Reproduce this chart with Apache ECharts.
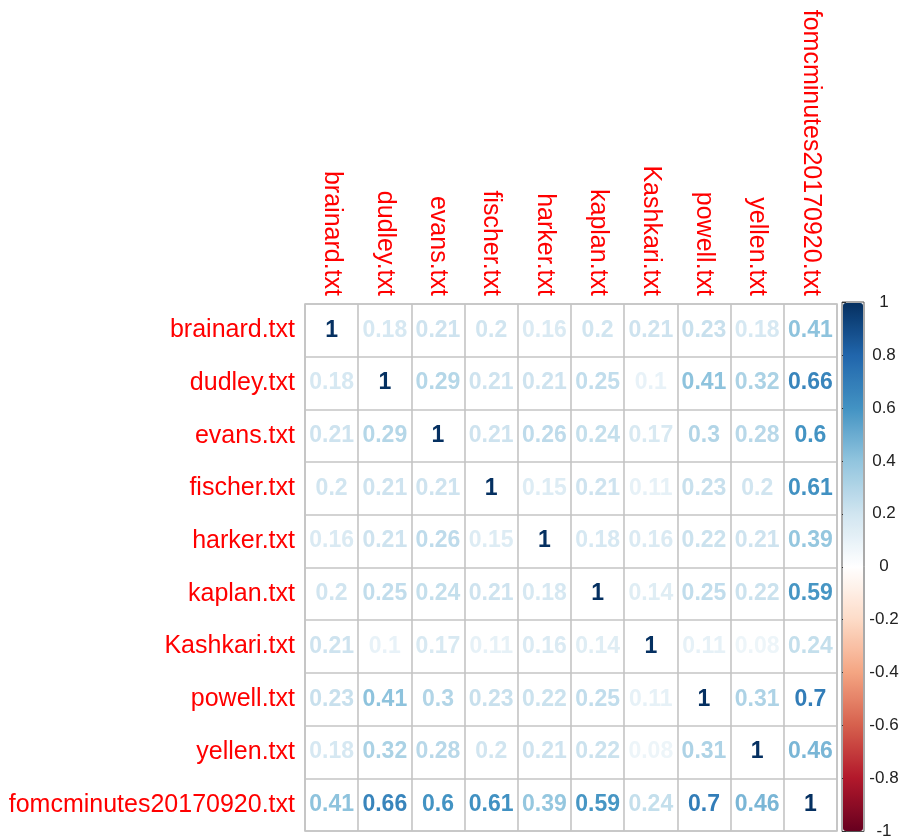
<!DOCTYPE html>
<html>
<head>
<meta charset="utf-8">
<script src="https://cdn.jsdelivr.net/npm/echarts@6/dist/echarts.min.js"></script>
<style>
  html, body { margin: 0; padding: 0; background: #fff; }
  #chart { width: 905px; height: 840px; }
</style>
</head>
<body>
<div id="chart"></div>
<script>
// ==================== DATA ====================
const files = ['brainard.txt', 'dudley.txt', 'evans.txt', 'fischer.txt', 'harker.txt',
  'kaplan.txt', 'Kashkari.txt', 'powell.txt', 'yellen.txt', 'fomcminutes20170920.txt'];

const corr = [
  [1, 0.18, 0.21, 0.2, 0.16, 0.2, 0.21, 0.23, 0.18, 0.41],
  [0.18, 1, 0.29, 0.21, 0.21, 0.25, 0.1, 0.41, 0.32, 0.66],
  [0.21, 0.29, 1, 0.21, 0.26, 0.24, 0.17, 0.3, 0.28, 0.6],
  [0.2, 0.21, 0.21, 1, 0.15, 0.21, 0.11, 0.23, 0.2, 0.61],
  [0.16, 0.21, 0.26, 0.15, 1, 0.18, 0.16, 0.22, 0.21, 0.39],
  [0.2, 0.25, 0.24, 0.21, 0.18, 1, 0.14, 0.25, 0.22, 0.59],
  [0.21, 0.1, 0.17, 0.11, 0.16, 0.14, 1, 0.11, 0.08, 0.24],
  [0.23, 0.41, 0.3, 0.23, 0.22, 0.25, 0.11, 1, 0.31, 0.7],
  [0.18, 0.32, 0.28, 0.2, 0.21, 0.22, 0.08, 0.31, 1, 0.46],
  [0.41, 0.66, 0.6, 0.61, 0.39, 0.59, 0.24, 0.7, 0.46, 1]
];

// RdBu palette, -1 .. 1 in steps of 0.2
const palette = ['#67001F', '#B2182B', '#D6604D', '#F4A582', '#FDDBC7', '#FFFFFF',
  '#D1E5F0', '#92C5DE', '#4393C3', '#2166AC', '#053061'];

// ==================== HELPERS ====================
function hexToRgb(h) {
  return [parseInt(h.slice(1, 3), 16), parseInt(h.slice(3, 5), 16), parseInt(h.slice(5, 7), 16)];
}
function colorFor(v) {
  const pos = (v + 1) / 2 * (palette.length - 1);
  const i = Math.min(Math.floor(pos), palette.length - 2);
  const t = pos - i;
  const a = hexToRgb(palette[i]), b = hexToRgb(palette[i + 1]);
  const c = a.map((x, k) => Math.round(x + (b[k] - x) * t));
  return 'rgb(' + c.join(',') + ')';
}

const cells = [];
corr.forEach((row, r) => row.forEach((v, c) => {
  cells.push({ value: [c, r, v], label: { color: colorFor(v) } });
}));

// ==================== CHART ====================
const chart = echarts.init(document.getElementById('chart'));
const FONT = '"Liberation Sans", Arial, sans-serif';
const gridLine = { lineStyle: { color: '#c4c4c4', width: 1.6 } };

chart.setOption({
  backgroundColor: '#fff',
  animation: false,
  grid: [
    { left: 305, top: 304, width: 532, height: 527, show: true, borderColor: '#c4c4c4', borderWidth: 1.6 },
    { left: 842, top: 302, width: 22, height: 530, show: true, borderColor: '#555', borderWidth: 1 }
  ],
  xAxis: [
    {
      gridIndex: 0, type: 'category', data: files, position: 'top',
      axisLine: { show: false }, axisTick: { show: false },
      axisLabel: { rotate: 90, color: '#ff0000', fontSize: 25, fontFamily: FONT, margin: 8, interval: 0 },
      splitLine: Object.assign({ show: true, interval: 0 }, gridLine)
    },
    { gridIndex: 1, type: 'value', show: false, min: 0, max: 1 }
  ],
  yAxis: [
    {
      gridIndex: 0, type: 'category', data: files, inverse: true,
      axisLine: { show: false }, axisTick: { show: false },
      axisLabel: { color: '#ff0000', fontSize: 25, fontFamily: FONT, margin: 10, interval: 0 },
      splitLine: Object.assign({ show: true, interval: 0 }, gridLine)
    },
    {
      gridIndex: 1, type: 'value', position: 'right', min: -1, max: 1, interval: 0.2,
      axisLine: { show: false },
      axisTick: { show: true, length: 4, lineStyle: { color: '#333' } },
      axisLabel: { color: '#222', fontSize: 17, fontFamily: FONT, margin: 20, align: 'center', padding: [6, 0, 0, 0] },
      splitLine: { show: false }
    }
  ],
  visualMap: {
    type: 'continuous', min: -1, max: 1, seriesIndex: 0, calculable: false,
    orient: 'vertical', left: 843, top: 303, itemWidth: 20, itemHeight: 528, padding: 0,
    text: null, showLabel: false,
    inRange: { color: palette }
  },
  series: [
    {
      type: 'scatter', xAxisIndex: 0, yAxisIndex: 0, symbolSize: 0, data: cells,
      itemStyle: { opacity: 1 },
      label: {
        show: true, position: 'inside', fontSize: 23, fontWeight: 'bold', fontFamily: FONT,
        formatter: p => String(p.value[2])
      }
    }
  ]
});
</script>
</body>
</html>
